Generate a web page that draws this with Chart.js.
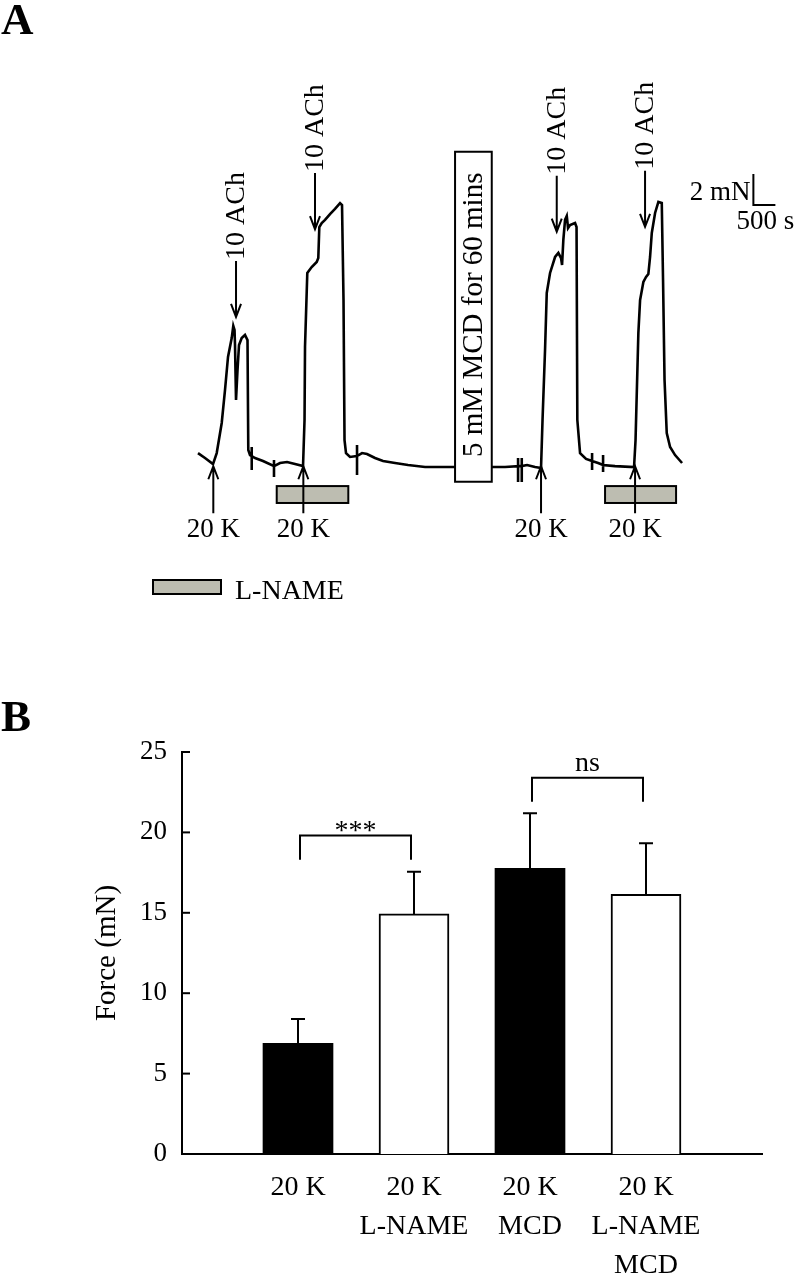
<!DOCTYPE html>
<html>
<head>
<meta charset="utf-8">
<title>Force traces and summary</title>
<script src="https://cdn.jsdelivr.net/npm/chart.js@4.4.0/dist/chart.umd.min.js"></script>
<style>
  html, body { margin: 0; padding: 0; background: #fff; }
  #wrap { position: relative; width: 798px; height: 1282px; overflow: hidden;
          font-family: "Liberation Serif", "Times New Roman", serif; color: #000; }
  canvas { position: absolute; left: 0; }
  #traceChart { top: 0; }
  #forceChart { top: 640px; }
  .panel-letter { position: absolute; left: 1px; font-size: 45px; font-weight: bold; line-height: 45px; }
  .legend-box { position: absolute; left: 152px; top: 579px; width: 70px; height: 16px;
                box-sizing: border-box; border: 2px solid #000; background: #bdbdb1; }
  .legend-text { position: absolute; left: 235px; top: 576px; font-size: 28px; line-height: 28px; }
</style>
</head>
<body>
<div id="wrap">
  <canvas id="traceChart" width="798" height="640"></canvas>
  <canvas id="forceChart" width="798" height="642"></canvas>
  <div class="panel-letter" style="top:-3px">A</div>
  <div class="legend-box"></div>
  <div class="legend-text">L-NAME</div>
  <div class="panel-letter" style="top:694px">B</div>
</div>

<script>
/* =================================
   PANEL A : force trace
   PANEL B : mean force (mN)
================================= */

const SERIF = '"Liberation Serif", "Times New Roman", serif';
const LNAME_GREY = "#bdbdb1";


/* ========= DATA A : trace ========= */

// time (s) and force (mN) (2 mN / 500 s scale bar)
const traceTime = [
  0, 159, 341, 425, 539, 614, 682, 766, 802, 830, 841, 864, 898, 932, 993, 1068, 1125, 1143, 1182,
  1221, 1221, 1221, 1221, 1296, 1477, 1727, 1727, 1727, 1727, 1864, 2023, 2205, 2387,
  2421, 2432, 2484, 2584, 2698, 2734, 2757, 2812, 2887, 3000, 3114, 3228, 3273, 3307, 3330, 3364, 3455,
  3614, 3614, 3614, 3614, 3728, 3841, 4023, 4205, 4478, 4773, 5160, 5842, 6683, 6978,
  7274, 7274, 7274, 7274, 7358, 7358, 7358, 7358, 7478, 7660, 7796,
  7830, 7887, 7926, 8001, 8115, 8190, 8251, 8274, 8303, 8342, 8381, 8410, 8456, 8569, 8603, 8621, 8683, 8819,
  8956, 8956, 8956, 8956, 9092, 9206, 9206, 9206, 9206, 9478, 9910,
  9944, 10008, 10047, 10122, 10183, 10235, 10274, 10313, 10388, 10463, 10540, 10569, 10603, 10653, 10729, 10842, 11001
];
const traceForce = [
  0.90, 0.58, 0.19, 0.90, 2.84, 4.97, 7.10, 8.32, 9.10, 8.84, 7.87, 4.32, 6.26, 7.87, 8.32, 8.52, 8.19, 1.10, 0.77,
  0.71, 1.29, -0.19, 0.71, 0.58, 0.39, 0.06, 0.45, -0.65, 0.06, 0.26, 0.32, 0.19, 0.06,
  3.03, 7.74, 12.52, 12.90, 13.23, 13.48, 15.48, 15.74, 15.94, 16.32, 16.65, 17.03, 16.90, 10.77, 1.74, 0.90, 0.65,
  0.71, 1.42, -0.52, 0.71, 0.90, 0.84, 0.58, 0.39, 0.26, 0.13, 0.00, 0.00, 0.00, 0.00,
  0.06, 0.58, -0.97, 0.06, 0.06, 0.58, -0.97, 0.06, 0.13, 0.00, -0.06,
  3.03, 7.55, 11.23, 12.52, 13.55, 13.81, 13.48, 13.03, 14.65, 15.94, 16.19, 15.42, 15.61, 15.74, 15.48, 3.03, 0.90, 0.52,
  0.39, 0.90, -0.19, 0.39, 0.26, 0.13, 0.77, -0.32, 0.13, 0.06, 0.00,
  1.74, 8.65, 10.77, 11.94, 12.26, 12.45, 13.55, 15.10, 16.39, 17.10, 17.03, 12.06, 5.61, 2.19, 1.29, 0.77, 0.26
];

// additions (s)
const kTimes = [348, 2394, 7796, 9933];
const achTimes = [864, 2659, 8153, 10160];
const achTipForce = [9.68, 15.35, 15.18, 15.50];
const lnameStart = [1789, 9251];
const lnameEnd = [3416, 10865];
const mcdWindow = [5842, 6676];

const kLabel = "20 K";
const achLabel = "10 ACh";
const mcdLabel = "5 mM MCD for 60 mins";


/* ========= DATA B : bars ========= */

const categories = [["20 K"], ["20 K", "L-NAME"], ["20 K", "MCD"], ["20 K", "L-NAME", "MCD"]];
const meanForce = [6.88, 14.93, 17.77, 16.15];
const errForce = [1.52, 2.63, 3.42, 3.17];
const barFill = ["#000", "#fff", "#000", "#fff"];
const yTicks = [0, 5, 10, 15, 20, 25];

const sigPairs = [[0, 1], [2, 3]];
const sigLabels = ["***", "ns"];
const sigTop = [19.8, 23.4];
const sigLeg = [18.3, 21.9];


/* ========= HELPERS ========= */

function arrow(ctx, x0, y0, x1, y1) {
  const dir = y1 < y0 ? 1 : -1;   // pointing up or down
  ctx.beginPath();
  ctx.moveTo(x0, y0);
  ctx.lineTo(x1, y1);
  ctx.moveTo(x1 - 5, y1 + dir * 13);
  ctx.lineTo(x1, y1);
  ctx.lineTo(x1 + 5, y1 + dir * 13);
  ctx.stroke();
}


/* ========= PANEL A PLUGIN ========= */

const traceMarks = {
  id: "traceMarks",
  afterDatasetsDraw(chart) {
    const { ctx, scales: { x, y } } = chart;
    ctx.save();
    ctx.strokeStyle = "#000";
    ctx.lineWidth = 2;
    ctx.lineCap = "butt";

    // L-NAME bars
    lnameStart.forEach((t0, i) => {
      const x0 = x.getPixelForValue(t0);
      const x1 = x.getPixelForValue(lnameEnd[i]);
      const y0 = y.getPixelForValue(-1.23);
      const y1 = y.getPixelForValue(-2.32);
      ctx.fillStyle = LNAME_GREY;
      ctx.fillRect(x0, y0, x1 - x0, y1 - y0);
      ctx.strokeRect(x0, y0, x1 - x0, y1 - y0);
    });

    // MCD box
    const mx0 = x.getPixelForValue(mcdWindow[0]);
    const mx1 = x.getPixelForValue(mcdWindow[1]);
    const my0 = y.getPixelForValue(20.34);
    const my1 = y.getPixelForValue(-0.95);
    ctx.fillStyle = "#fff";
    ctx.fillRect(mx0, my0, mx1 - mx0, my1 - my0);
    ctx.strokeRect(mx0, my0, mx1 - mx0, my1 - my0);
    ctx.fillStyle = "#000";
    ctx.save();
    ctx.translate((mx0 + mx1) / 2 + 1, (my0 + my1) / 2 - 2);
    ctx.rotate(-Math.PI / 2);
    ctx.font = "29px " + SERIF;
    ctx.textAlign = "center";
    ctx.textBaseline = "middle";
    ctx.fillText(mcdLabel, 0, 0);
    ctx.restore();

    // 20 K arrows
    ctx.font = "27px " + SERIF;
    ctx.textAlign = "center";
    ctx.textBaseline = "middle";
    kTimes.forEach(t => {
      const px = x.getPixelForValue(t);
      const tip = y.getPixelForValue(0.05);
      arrow(ctx, px, tip + 47, px, tip);
      ctx.fillText(kLabel, px, tip + 64);
    });

    // ACh arrows
    ctx.font = "28px " + SERIF;
    achTimes.forEach((t, i) => {
      const px = x.getPixelForValue(t);
      const tip = y.getPixelForValue(achTipForce[i]);
      arrow(ctx, px, tip - 56, px, tip);
      ctx.save();
      ctx.translate(px + 1, tip - 57);
      ctx.rotate(-Math.PI / 2);
      ctx.textAlign = "left";
      ctx.textBaseline = "middle";
      ctx.fillText(achLabel, 0, 0);
      ctx.restore();
    });

    // scale bar 2 mN / 500 s
    const sx0 = x.getPixelForValue(12622);
    const sx1 = x.getPixelForValue(12622 + 500);
    const sy0 = y.getPixelForValue(16.9);
    const sy1 = y.getPixelForValue(16.9 + 2);
    ctx.beginPath();
    ctx.moveTo(sx0, sy1);
    ctx.lineTo(sx0, sy0);
    ctx.lineTo(sx1, sy0);
    ctx.stroke();
    ctx.font = "27px " + SERIF;
    ctx.textAlign = "right";
    ctx.fillText("2 mN", sx0 - 3, sy0 - 12);
    ctx.textAlign = "left";
    ctx.fillText("500 s", sx0 - 17, sy0 + 17);

    ctx.restore();
  }
};


/* ========= PANEL B PLUGIN ========= */

const barMarks = {
  id: "barMarks",
  afterDatasetsDraw(chart) {
    const { ctx, chartArea, scales: { x, y } } = chart;
    ctx.save();
    ctx.strokeStyle = "#000";
    ctx.fillStyle = "#000";
    ctx.lineWidth = 2;

    // inward y ticks
    yTicks.forEach(v => {
      const py = y.getPixelForValue(v);
      ctx.beginPath();
      ctx.moveTo(chartArea.left, py);
      ctx.lineTo(chartArea.left + 8, py);
      ctx.stroke();
    });

    // error bars (upper)
    const meta = chart.getDatasetMeta(0);
    meanForce.forEach((m, i) => {
      const bar = meta.data[i + 1];
      const top = y.getPixelForValue(m + errForce[i]);
      ctx.beginPath();
      ctx.moveTo(bar.x, bar.y);
      ctx.lineTo(bar.x, top);
      ctx.moveTo(bar.x - 7, top);
      ctx.lineTo(bar.x + 7, top);
      ctx.stroke();
    });

    // significance brackets
    ctx.font = "28px " + SERIF;
    ctx.textAlign = "center";
    ctx.textBaseline = "alphabetic";
    sigPairs.forEach((p, i) => {
      const xa = x.getPixelForValue(p[0] + 1) + 2;
      const xb = x.getPixelForValue(p[1] + 1) - 3;
      const yt = y.getPixelForValue(sigTop[i]);
      const yl = y.getPixelForValue(sigLeg[i]);
      ctx.beginPath();
      ctx.moveTo(xa, yl);
      ctx.lineTo(xa, yt);
      ctx.lineTo(xb, yt);
      ctx.lineTo(xb, yl);
      ctx.stroke();
      const dy = sigLabels[i] === "***" ? 3 : -7;
      ctx.fillText(sigLabels[i], (xa + xb) / 2, yt + dy);
    });

    ctx.restore();
  }
};


/* ========= CHART A ========= */

function loadTrace() {
  const canvas = document.getElementById("traceChart");
  const points = traceTime.map((t, i) => ({ x: t, y: traceForce[i] }));

  new Chart(canvas, {
    type: "line",
    data: {
      datasets: [{
        data: points,
        borderColor: "#000",
        borderWidth: 2.6,
        pointRadius: 0,
        tension: 0,
        fill: false
      }]
    },
    options: {
      responsive: false,
      animation: false,
      layout: { padding: 0 },
      plugins: { legend: { display: false }, tooltip: { enabled: false } },
      scales: {
        x: { type: "linear", display: false, min: -4500, max: 13636 },
        y: { type: "linear", display: false, min: -11.16, max: 30.13 }
      }
    },
    plugins: [traceMarks]
  });
}


/* ========= CHART B ========= */

function loadBars() {
  const canvas = document.getElementById("forceChart");

  new Chart(canvas, {
    type: "bar",
    data: {
      labels: [""].concat(categories, [""]),
      datasets: [{
        data: [null].concat(meanForce, [null]),
        backgroundColor: ["#fff"].concat(barFill, ["#fff"]),
        borderColor: "#000",
        borderWidth: [0].concat(barFill.map(c => c === "#fff" ? 2 : 0), [0]),
        barThickness: 70
      }]
    },
    options: {
      responsive: false,
      animation: false,
      layout: { padding: { top: 112, right: 36, left: 88, bottom: 0 } },
      plugins: { legend: { display: false }, tooltip: { enabled: false } },
      scales: {
        x: {
          offset: false,
          grid: { display: false, drawTicks: false },
          border: { display: true, color: "#000", width: 2 },
          ticks: {
            color: "#000",
            font: { family: SERIF, size: 28, lineHeight: 1.4 },
            padding: 14,
            maxRotation: 0,
            autoSkip: false
          },
          afterFit(scale) { scale.height = 128; }
        },
        y: {
          min: 0,
          max: 25,
          grid: { display: false, drawTicks: false },
          border: { display: true, color: "#000", width: 2 },
          ticks: {
            stepSize: 5,
            color: "#000",
            font: { family: SERIF, size: 27 },
            padding: 15
          },
          title: {
            display: true,
            text: "Force (mN)",
            color: "#000",
            font: { family: SERIF, size: 29 },
            padding: { top: 2, bottom: 0 }
          },
          afterFit(scale) { scale.width = 94; }
        }
      }
    },
    plugins: [barMarks]
  });
}


/* ========= INIT ========= */

loadTrace();
loadBars();
</script>
</body>
</html>
